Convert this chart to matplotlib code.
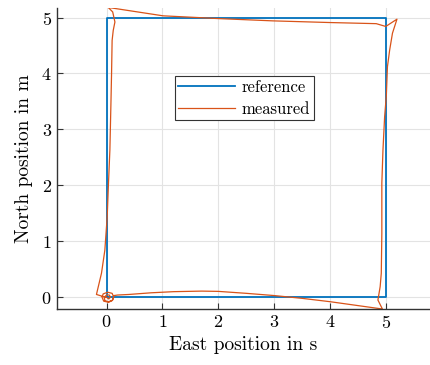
import matplotlib
matplotlib.use("Agg")
import matplotlib.pyplot as plt

plt.rcParams['font.family'] = ['cmr10', 'DejaVu Serif']
plt.rcParams['mathtext.fontset'] = 'cm'
plt.rcParams['axes.formatter.use_mathtext'] = True

# reference square path
ref_x = [0, 5, 5, 0, 0]
ref_y = [0, 0, 5, 5, 0]

# measured path
meas_x = [0.0, 0.04, 0.07, 0.05, 0.0, -0.04, -0.03, 0.03, 0.1, 0.13, 0.1, 0.02,
          -0.06, -0.08, -0.05, 0.04, 0.11, 0.13, 0.2,
          0.4, 0.8, 1.2, 1.7, 2.0, 2.5, 3.0, 3.5, 4.0, 4.5, 4.93,
          4.85, 4.89, 4.91, 4.92, 4.92, 4.94, 4.97, 5.0, 5.02, 5.06, 5.11, 5.19,
          4.99, 4.82, 3.99, 2.97, 2.02, 1.01, 0.03,
          0.11, 0.15, 0.12, 0.10, 0.09, 0.08, 0.06, 0.035, 0.012, -0.03, -0.09,
          -0.18, -0.02]
meas_y = [0.0, -0.03, 0.0, 0.04, 0.04, 0.0, -0.06, -0.08, -0.06, 0.0, 0.07, 0.09,
          0.06, 0.0, -0.07, -0.09, -0.05, 0.03, 0.04,
          0.05, 0.08, 0.1, 0.11, 0.105, 0.07, 0.03, -0.02, -0.08, -0.15, -0.21,
          -0.05, 0.19, 0.43, 1.14, 2.04, 2.63, 3.23, 3.6, 4.12, 4.42, 4.72, 4.97,
          4.84, 4.89, 4.91, 4.94, 4.98, 5.03, 5.18,
          5.10, 4.92, 4.77, 4.59, 4.0, 3.52, 2.63, 2.04, 1.44, 0.84, 0.43,
          0.05, 0.0]

fig = plt.figure(figsize=(4.31, 3.65), dpi=100)
ax = fig.add_axes([0.1316, 0.1534, 0.866, 0.8247])

ax.plot(ref_x, ref_y, color='#0072BD', lw=1.3, label='reference')
ax.plot(meas_x, meas_y, color='#D95319', lw=0.9, label='measured')

ax.set_xlim(-0.89, 5.78)
ax.set_ylim(-0.21, 5.17)
ax.set_xticks([0, 1, 2, 3, 4, 5])
ax.set_yticks([0, 1, 2, 3, 4, 5])
ax.grid(True, color='#e3e3e3', lw=0.8)
ax.set_axisbelow(True)
ax.tick_params(direction='in', length=4, width=0.8, labelsize=13, color='#333333')
for s in ['top', 'right']:
    ax.spines[s].set_visible(False)
for s in ['left', 'bottom']:
    ax.spines[s].set_color('#333333')
    ax.spines[s].set_linewidth(1.0)

ax.set_xlabel('East position in s', fontsize=14)
ax.set_ylabel('North position in m', fontsize=14, labelpad=6)

leg = ax.legend(loc='upper left', bbox_to_anchor=(0.317, 0.774), borderaxespad=0,
                fancybox=False, edgecolor='#333333', framealpha=1, fontsize=12,
                handlelength=3.4, handletextpad=0.4, labelspacing=0.42,
                borderpad=0.2)
leg.get_frame().set_linewidth(0.8)

fig.savefig('out.png', dpi=100)
